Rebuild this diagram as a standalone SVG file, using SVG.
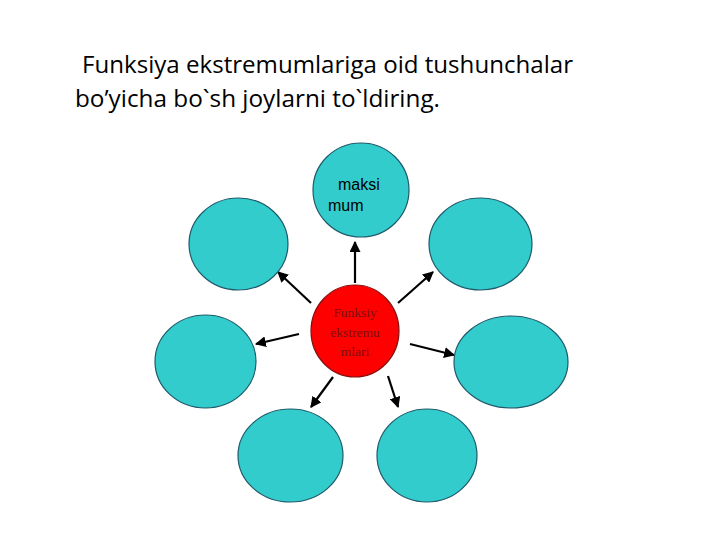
<svg xmlns="http://www.w3.org/2000/svg" width="720" height="540" viewBox="0 0 720 540">
<style>
.c{fill:#33CCCC;stroke:#1E5A6A;stroke-width:1.2}
.r{fill:#FF0000;stroke:#8A1010;stroke-width:1.2}
.t{font-family:"Liberation Sans",Arial,sans-serif;fill:#000}
.h{font-family:"Open Sans","Liberation Sans",sans-serif;fill:#000;font-size:23px}
.rt{font-family:"Liberation Serif","Times New Roman",serif;font-size:13.5px;fill:#7A1010;text-anchor:middle}
.a{stroke:#000;stroke-width:2.2;fill:none;marker-end:url(#ah)}
</style>
<defs>
<marker id="ah" viewBox="0 0 10 10" refX="9" refY="5" markerWidth="5" markerHeight="5" orient="auto" markerUnits="strokeWidth">
<path d="M0,0 L10,5 L0,10 z" fill="#000"/>
</marker>
</defs>
<rect width="720" height="540" fill="#fff"/>
<g id="title">
<text class="h" x="82" y="73" textLength="491" lengthAdjust="spacingAndGlyphs">Funksiya ekstremumlariga oid tushunchalar</text>
<text class="h" x="75" y="107" textLength="365" lengthAdjust="spacingAndGlyphs">bo’yicha bo`sh joylarni to`ldiring.</text>
</g>
<g id="connectors">
<line class="a" x1="355" y1="283" x2="355" y2="242"/>
<line class="a" x1="311" y1="303" x2="278" y2="272"/>
<line class="a" x1="299" y1="334" x2="256" y2="344"/>
<line class="a" x1="398" y1="303" x2="433" y2="272"/>
<line class="a" x1="410" y1="344" x2="454" y2="355"/>
<line class="a" x1="333" y1="377" x2="311" y2="407"/>
<line class="a" x1="388" y1="376" x2="398" y2="407"/>
</g>
<g id="n-top">
<ellipse class="c" cx="361" cy="190" rx="48" ry="47"/>
<text class="t" x="338" y="190" font-size="16">maksi</text>
<text class="t" x="328" y="211" font-size="16">mum</text>
</g>
<g id="n-upper-left"><ellipse class="c" cx="238.5" cy="244" rx="49.5" ry="46"/></g>
<g id="n-upper-right"><ellipse class="c" cx="480.5" cy="244" rx="51.5" ry="46"/></g>
<g id="n-lower-left"><ellipse class="c" cx="205.5" cy="361.5" rx="50.5" ry="46.5"/></g>
<g id="n-lower-right"><ellipse class="c" cx="511" cy="362" rx="57" ry="46"/></g>
<g id="n-bottom-left"><ellipse class="c" cx="290.5" cy="455.5" rx="52.5" ry="46.5"/></g>
<g id="n-bottom-right"><ellipse class="c" cx="427" cy="455.5" rx="50" ry="46.5"/></g>
<g id="n-center">
<ellipse class="r" cx="355" cy="331" rx="44" ry="46"/>
<text class="rt" x="355" y="317">Funksiy</text>
<text class="rt" x="355" y="337">ekstremu</text>
<text class="rt" x="355" y="356">mlari</text>
</g>
</svg>
